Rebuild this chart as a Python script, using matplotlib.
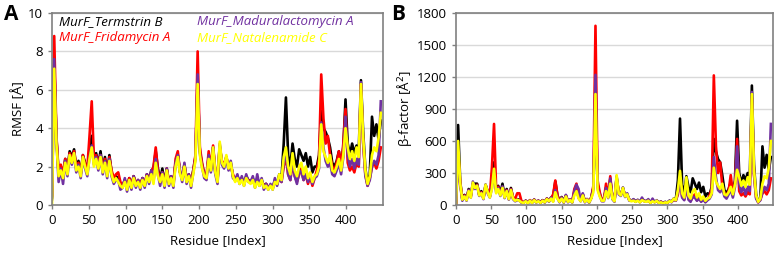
import numpy as np
import matplotlib
matplotlib.use("Agg")
import matplotlib.pyplot as plt

plt.rcParams['font.family'] = ['Open Sans', 'DejaVu Sans']

# residues sampled every 3 positions
residue = np.arange(0, 448, 3)

names = ['MurF_Termstrin B', 'MurF_Fridamycin A', 'MurF_Maduralactomycin A', 'MurF_Natalenamide C']
colors = ['#000000', '#ff0000', '#7030a0', '#ffff00']

# ---- panel A: RMSF [A] ----
rmsf_termstrin = [
    0.4, 7.4, 3.5, 1.6, 2.0, 1.5, 2.4, 1.8, 2.8, 2.5,
    2.9, 1.9, 2.3, 1.6, 2.6, 2.2, 1.8, 2.8, 3.6, 2.3,
    2.7, 2.1, 2.8, 1.8, 2.5, 1.6, 2.6, 1.7, 1.3, 1.5,
    1.4, 1.0, 1.0, 1.3, 0.9, 1.4, 1.0, 1.5, 1.1, 1.3,
    1.0, 1.4, 1.0, 1.6, 1.3, 1.8, 1.9, 2.8, 1.9, 1.3,
    1.9, 1.1, 1.9, 1.2, 1.5, 1.1, 2.2, 2.6, 1.7, 1.4,
    2.1, 1.3, 1.6, 1.1, 1.8, 2.5, 6.5, 2.8, 2.1, 1.6,
    1.5, 2.5, 1.8, 3.0, 1.7, 1.3, 3.1, 2.2, 2.0, 2.5,
    1.9, 2.2, 1.5, 1.3, 1.5, 1.2, 1.4, 1.1, 1.5, 1.3,
    1.2, 1.4, 1.0, 1.4, 1.1, 1.3, 1.0, 1.1, 0.9, 1.0,
    0.9, 1.3, 1.1, 1.6, 1.4, 3.2, 5.6, 2.6, 2.0, 3.2,
    2.4, 2.0, 2.9, 2.6, 2.3, 2.7, 2.0, 2.5, 1.7, 2.0,
    2.0, 2.6, 4.9, 4.0, 3.8, 3.5, 3.0, 2.2, 2.0, 2.3,
    2.8, 2.1, 3.0, 5.5, 3.2, 2.6, 3.2, 2.7, 3.1, 2.8,
    6.5, 3.8, 1.9, 1.1, 1.6, 4.6, 3.6, 4.2, 3.4, 4.4,
]
rmsf_fridamycin = [
    0.5, 8.8, 3.6, 1.7, 2.1, 1.6, 2.4, 1.8, 2.7, 2.4,
    2.8, 2.0, 2.2, 1.6, 2.6, 2.1, 1.9, 3.6, 5.4, 2.4,
    2.6, 2.2, 2.6, 1.9, 2.4, 1.6, 2.5, 1.8, 1.4, 1.6,
    1.7, 1.2, 1.0, 1.3, 0.9, 1.4, 1.0, 1.5, 1.1, 1.3,
    1.0, 1.4, 1.1, 1.6, 1.3, 1.7, 2.0, 3.0, 1.8, 1.3,
    1.7, 1.1, 1.9, 1.2, 1.5, 1.1, 2.4, 2.8, 1.7, 1.4,
    2.1, 1.3, 1.6, 1.1, 1.8, 2.6, 8.0, 3.0, 2.2, 1.6,
    1.5, 2.8, 1.9, 3.1, 1.8, 1.3, 3.0, 2.3, 2.1, 2.5,
    2.0, 2.1, 1.6, 1.3, 1.5, 1.2, 1.4, 1.1, 1.4, 1.3,
    1.2, 1.3, 1.0, 1.3, 1.1, 1.2, 1.0, 1.1, 0.9, 1.0,
    0.9, 1.2, 1.1, 1.4, 1.2, 2.0, 2.5, 1.6, 1.3, 2.2,
    1.5, 1.2, 1.6, 1.9, 1.3, 1.6, 1.1, 1.5, 1.0, 1.4,
    1.8, 2.4, 6.8, 4.5, 3.2, 3.6, 2.6, 2.0, 1.8, 2.2,
    2.8, 2.0, 3.2, 5.0, 2.2, 1.8, 2.0, 1.7, 2.2, 2.0,
    6.3, 3.2, 1.6, 1.0, 1.4, 2.0, 2.2, 1.9, 2.3, 3.0,
]
rmsf_maduralactomycin = [
    0.3, 7.6, 3.4, 1.2, 1.9, 1.1, 2.3, 1.5, 2.6, 2.1,
    2.7, 1.7, 2.1, 1.4, 2.5, 1.9, 1.5, 2.5, 3.1, 2.1,
    2.5, 1.8, 2.6, 1.6, 2.3, 1.4, 2.4, 1.5, 1.1, 1.3,
    1.3, 0.8, 0.9, 1.4, 0.7, 1.3, 0.8, 1.5, 0.9, 1.3,
    0.8, 1.4, 0.9, 1.6, 1.1, 1.8, 1.2, 2.4, 1.6, 1.0,
    1.7, 0.9, 1.9, 1.0, 1.5, 0.9, 2.2, 2.6, 1.8, 1.2,
    2.2, 1.1, 1.6, 0.9, 1.7, 2.4, 6.8, 2.7, 2.0, 1.4,
    1.3, 2.6, 1.7, 3.0, 1.6, 1.1, 3.2, 2.1, 1.9, 2.5,
    1.8, 2.3, 1.4, 1.3, 1.6, 1.1, 1.5, 1.0, 1.6, 1.2,
    1.2, 1.5, 0.9, 1.6, 1.0, 1.4, 0.8, 1.1, 0.8, 1.1,
    0.8, 1.4, 1.0, 1.5, 1.2, 2.2, 2.8, 1.6, 1.3, 2.4,
    1.5, 1.1, 1.8, 1.7, 1.3, 1.6, 1.2, 1.5, 1.1, 1.4,
    1.5, 1.9, 4.3, 3.0, 2.3, 2.0, 2.2, 1.6, 1.5, 1.8,
    2.2, 1.6, 2.5, 4.6, 2.6, 2.0, 2.4, 1.9, 2.4, 2.1,
    6.4, 3.3, 1.5, 1.0, 1.3, 2.0, 2.3, 2.1, 2.6, 5.4,
]
rmsf_natalenamide = [
    0.0, 7.1, 3.2, 1.5, 1.8, 1.4, 2.2, 1.6, 2.6, 2.2,
    2.7, 1.8, 2.0, 1.5, 2.5, 2.0, 1.6, 2.4, 3.0, 2.0,
    2.4, 1.9, 2.5, 1.7, 2.2, 1.5, 2.3, 1.6, 1.2, 1.4,
    1.2, 1.0, 0.9, 1.2, 0.8, 1.3, 0.9, 1.4, 1.0, 1.2,
    0.9, 1.3, 1.0, 1.5, 1.2, 1.6, 1.1, 2.2, 1.5, 1.2,
    1.6, 1.0, 1.8, 1.1, 1.4, 1.0, 2.0, 2.5, 1.6, 1.3,
    2.0, 1.2, 1.5, 1.0, 1.6, 2.3, 6.3, 2.6, 1.9, 1.5,
    1.4, 2.4, 1.8, 3.0, 1.7, 1.2, 3.3, 2.2, 2.0, 2.6,
    1.9, 2.2, 1.5, 1.2, 1.4, 1.1, 1.3, 1.0, 1.4, 1.2,
    1.1, 1.3, 0.9, 1.2, 1.0, 1.3, 0.9, 1.0, 0.8, 1.0,
    0.8, 1.2, 1.1, 1.6, 1.3, 2.5, 3.0, 2.0, 1.6, 2.7,
    1.8, 1.5, 2.0, 2.2, 1.6, 2.0, 1.4, 1.7, 1.2, 1.5,
    1.6, 2.0, 4.2, 2.8, 2.5, 2.2, 2.6, 1.8, 1.7, 2.0,
    2.4, 1.8, 2.6, 4.0, 3.0, 2.4, 2.8, 2.3, 3.0, 2.5,
    6.3, 3.5, 1.8, 1.1, 1.5, 2.6, 3.0, 2.8, 3.5, 4.8,
]

# ---- panel B: beta-factor [A^2] ----
bf_termstrin = [
    0, 750, 220, 55, 95, 55, 150, 85, 200, 200,
    200, 95, 130, 65, 190, 130, 80, 200, 400, 140,
    180, 110, 200, 80, 150, 60, 160, 65, 45, 55,
    50, 30, 25, 40, 20, 45, 25, 50, 30, 40,
    25, 45, 28, 60, 40, 70, 80, 220, 90, 35,
    75, 30, 90, 35, 50, 30, 120, 170, 70, 40,
    100, 35, 55, 30, 70, 160, 1000, 190, 100, 50,
    50, 160, 75, 240, 65, 40, 260, 120, 95, 160,
    85, 100, 50, 40, 50, 35, 45, 30, 55, 40,
    35, 45, 25, 45, 30, 40, 25, 30, 20, 28,
    22, 40, 32, 60, 50, 230, 810, 190, 110, 270,
    170, 120, 250, 200, 150, 210, 120, 170, 80, 110,
    100, 170, 620, 500, 430, 400, 280, 140, 110, 150,
    210, 120, 230, 790, 300, 200, 280, 230, 300, 250,
    1120, 380, 100, 30, 60, 550, 350, 470, 320, 450,
]
bf_fridamycin = [
    0, 500, 210, 55, 90, 50, 140, 80, 200, 170,
    190, 100, 120, 70, 180, 130, 80, 350, 760, 150,
    170, 100, 170, 80, 140, 60, 150, 70, 60, 110,
    110, 35, 25, 40, 20, 45, 25, 50, 30, 40,
    25, 45, 30, 60, 40, 65, 100, 230, 90, 35,
    70, 30, 90, 35, 50, 30, 150, 200, 70, 40,
    100, 35, 55, 30, 70, 180, 1680, 230, 120, 50,
    50, 200, 80, 270, 70, 40, 250, 120, 100, 150,
    90, 90, 50, 40, 45, 35, 45, 30, 45, 40,
    35, 40, 25, 40, 30, 35, 25, 30, 20, 25,
    20, 35, 30, 50, 40, 100, 250, 80, 50, 160,
    60, 40, 70, 100, 45, 70, 35, 60, 30, 50,
    90, 150, 1215, 550, 300, 400, 180, 110, 90, 130,
    280, 110, 200, 620, 130, 90, 110, 80, 120, 100,
    1000, 280, 70, 25, 50, 110, 130, 100, 140, 250,
]
bf_maduralactomycin = [
    0, 450, 190, 40, 85, 40, 140, 70, 220, 150,
    185, 85, 115, 55, 190, 110, 70, 160, 330, 120,
    160, 85, 175, 65, 135, 50, 145, 55, 35, 45,
    45, 20, 20, 40, 15, 40, 18, 50, 22, 40,
    18, 45, 22, 60, 30, 70, 35, 140, 65, 25,
    70, 20, 95, 25, 50, 22, 130, 190, 150, 35,
    110, 25, 55, 20, 65, 150, 1220, 160, 90, 35,
    35, 160, 65, 250, 55, 30, 270, 100, 85, 165,
    75, 110, 40, 40, 55, 30, 50, 25, 70, 35,
    35, 55, 20, 60, 25, 45, 18, 30, 15, 30,
    18, 40, 25, 55, 40, 120, 240, 70, 45, 200,
    50, 30, 80, 70, 40, 60, 30, 50, 25, 45,
    60, 100, 450, 260, 140, 120, 160, 80, 60, 100,
    150, 70, 170, 550, 200, 120, 170, 100, 170, 130,
    1060, 300, 60, 25, 45, 120, 170, 140, 200, 760,
]
bf_natalenamide = [
    0, 600, 200, 50, 80, 45, 130, 70, 210, 160,
    180, 90, 110, 60, 190, 120, 70, 150, 340, 110,
    150, 90, 160, 70, 130, 55, 140, 60, 40, 50,
    40, 25, 20, 35, 15, 40, 20, 45, 25, 35,
    20, 40, 25, 55, 35, 60, 30, 120, 60, 30,
    60, 25, 80, 30, 45, 25, 90, 130, 60, 35,
    90, 30, 50, 25, 60, 120, 1040, 140, 80, 40,
    40, 130, 70, 200, 60, 35, 280, 110, 90, 160,
    80, 100, 45, 35, 40, 30, 40, 25, 45, 35,
    30, 40, 20, 35, 25, 40, 20, 25, 15, 25,
    20, 35, 30, 60, 45, 140, 320, 110, 70, 260,
    90, 60, 130, 150, 70, 110, 50, 80, 40, 60,
    70, 110, 350, 220, 180, 150, 200, 100, 90, 120,
    170, 100, 190, 330, 260, 180, 230, 170, 260, 190,
    1040, 330, 90, 30, 60, 200, 270, 250, 350, 600,
]

rmsf_series = [rmsf_termstrin, rmsf_fridamycin, rmsf_maduralactomycin, rmsf_natalenamide]
bf_series = [bf_termstrin, bf_fridamycin, bf_maduralactomycin, bf_natalenamide]

fig = plt.figure(figsize=(7.82, 2.58), dpi=100)
axA = fig.add_axes([0.0665, 0.2054, 0.4233, 0.7442])
axB = fig.add_axes([0.5831, 0.2054, 0.4054, 0.7442])


def style_axis(ax, ymax, ystep):
    ax.set_xlim(0, 450)
    ax.set_ylim(0, ymax)
    ax.set_xticks(np.arange(0, 401, 50))
    ax.set_yticks(np.arange(0, ymax + 1, ystep))
    ax.grid(axis='y', color='#d9d9d9', linewidth=1)
    ax.set_axisbelow(True)
    for sp in ax.spines.values():
        sp.set_color('#808080')
        sp.set_linewidth(1.2)
    ax.tick_params(axis='both', colors='#808080', labelcolor='black',
                   labelsize=9.5, length=3, width=1)
    ax.set_xlabel('Residue [Index]', fontsize=9.5, labelpad=5)


for vals, name, c in zip(rmsf_series, names, colors):
    axA.plot(residue, vals, color=c, linewidth=1.9, label=name)
style_axis(axA, 10, 2)
axA.set_ylabel('RMSF [Å]', fontsize=9.5, labelpad=2)
leg = axA.legend(loc='upper left', bbox_to_anchor=(0.015, 1.0), ncol=2,
                 frameon=False, handlelength=0, handletextpad=0,
                 columnspacing=2.0, labelspacing=0.25, borderaxespad=0,
                 borderpad=0.15, labelcolor='linecolor',
                 prop={'style': 'italic', 'size': 9.5})
for h in leg.legend_handles:
    h.set_visible(False)

for vals, name, c in zip(bf_series, names, colors):
    axB.plot(residue, vals, color=c, linewidth=1.9, label=name)
style_axis(axB, 1800, 300)
axB.set_ylabel('β-factor [Å$^2$]', fontsize=9.5, labelpad=2)

fig.text(0.005, 0.945, 'A', fontsize=15, fontweight='bold', va='center')
fig.text(0.500, 0.945, 'B', fontsize=15, fontweight='bold', va='center')

fig.savefig('out.png', dpi=100)
